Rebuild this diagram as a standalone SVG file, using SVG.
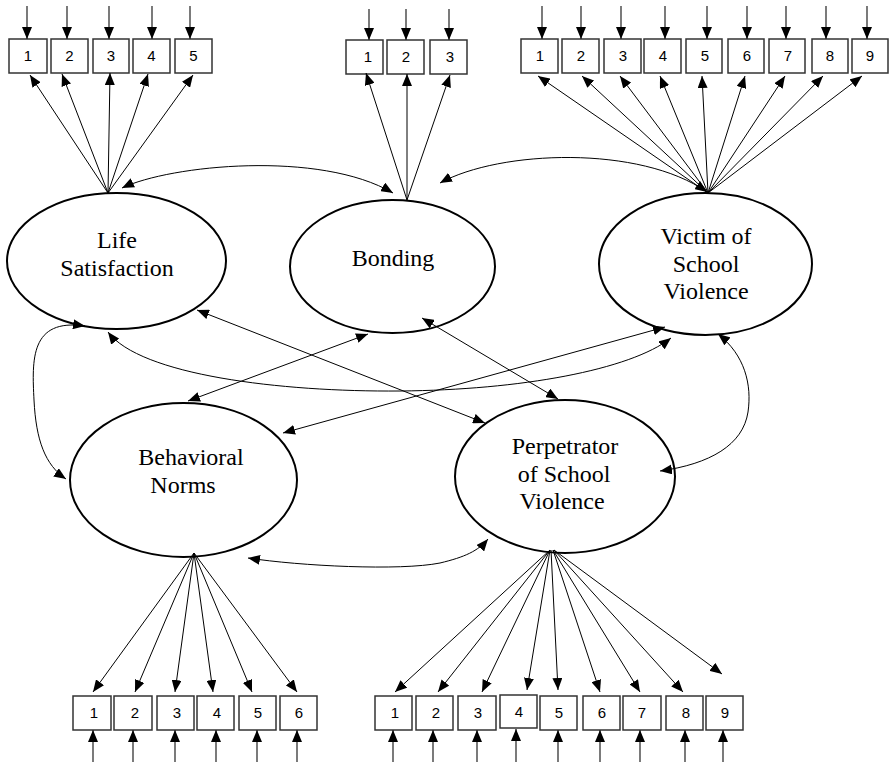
<svg xmlns="http://www.w3.org/2000/svg" width="889" height="764" viewBox="0 0 889 764">
<style>
.lat ellipse{fill:#fff;stroke:#000;stroke-width:2}
.lat text{font-family:"Liberation Serif","Times New Roman",serif;font-size:24px;text-anchor:middle;fill:#000}
.box rect{fill:#fff;stroke:#333;stroke-width:1.5}
.box text{font-family:"Liberation Sans",Arial,sans-serif;font-size:15px;text-anchor:middle;fill:#000}
.c line,.c path{fill:none;stroke:#000;stroke-width:1}
.e line{stroke:#333;stroke-width:1.3}
.one{marker-end:url(#ah)}
.two{marker-start:url(#ah);marker-end:url(#ah)}
</style>
<defs>
<marker id="ah" viewBox="0 0 12 10" refX="12" refY="5" markerWidth="12" markerHeight="10" markerUnits="userSpaceOnUse" orient="auto-start-reverse">
<path d="M0,0 L12,5 L0,10 z" fill="#000"/>
</marker>
</defs>
<rect width="889" height="764" fill="#fff"/>

<g id="life" class="lat">
<ellipse cx="116.5" cy="261" rx="109.5" ry="68"/>
<text x="117" y="248">Life</text>
<text x="117" y="276">Satisfaction</text>
</g>
<g id="bonding" class="lat">
<ellipse cx="392.5" cy="266.5" rx="102.5" ry="66.5"/>
<text x="393" y="266">Bonding</text>
</g>
<g id="victim" class="lat">
<ellipse cx="705.5" cy="264" rx="106.5" ry="71"/>
<text x="706" y="244">Victim of</text>
<text x="706" y="272">School</text>
<text x="706" y="299">Violence</text>
</g>
<g id="behavioral" class="lat">
<ellipse cx="183.5" cy="480" rx="113.5" ry="77"/>
<text x="191" y="465">Behavioral</text>
<text x="183" y="493">Norms</text>
</g>
<g id="perpetrator" class="lat">
<ellipse cx="565" cy="476.5" rx="110" ry="76.5"/>
<text x="565" y="454">Perpetrator</text>
<text x="564" y="482">of School</text>
<text x="562" y="509">Violence</text>
</g>

<!-- top-left boxes -->
<g id="ls1" class="box"><rect x="9" y="39" width="38" height="34"/><text x="28" y="61">1</text></g>
<g id="ls2" class="box"><rect x="51" y="39" width="37" height="34"/><text x="69.5" y="61">2</text></g>
<g id="ls3" class="box"><rect x="93" y="39" width="36" height="34"/><text x="111" y="61">3</text></g>
<g id="ls4" class="box"><rect x="133" y="39" width="37" height="34"/><text x="151.5" y="61">4</text></g>
<g id="ls5" class="box"><rect x="175" y="39" width="37" height="34"/><text x="193.5" y="61">5</text></g>
<!-- top-middle boxes -->
<g id="b1" class="box"><rect x="346" y="40" width="37" height="34"/><text x="368" y="62">1</text></g>
<g id="b2" class="box"><rect x="387" y="40" width="37" height="34"/><text x="406" y="62">2</text></g>
<g id="b3" class="box"><rect x="430" y="40" width="37" height="34"/><text x="450" y="62">3</text></g>
<!-- top-right boxes -->
<g id="v1" class="box"><rect x="521" y="39" width="37" height="34"/><text x="540" y="61">1</text></g>
<g id="v2" class="box"><rect x="562" y="39" width="37" height="34"/><text x="581" y="61">2</text></g>
<g id="v3" class="box"><rect x="604" y="39" width="37" height="34"/><text x="623" y="61">3</text></g>
<g id="v4" class="box"><rect x="644" y="39" width="37" height="34"/><text x="663" y="61">4</text></g>
<g id="v5" class="box"><rect x="686" y="39" width="36" height="34"/><text x="705" y="61">5</text></g>
<g id="v6" class="box"><rect x="728" y="39" width="36" height="34"/><text x="747" y="61">6</text></g>
<g id="v7" class="box"><rect x="769" y="39" width="36" height="34"/><text x="788" y="61">7</text></g>
<g id="v8" class="box"><rect x="812" y="39" width="36" height="34"/><text x="830" y="61">8</text></g>
<g id="v9" class="box"><rect x="852" y="39" width="36" height="34"/><text x="870" y="61">9</text></g>
<!-- bottom-left boxes -->
<g id="n1" class="box"><rect x="73" y="696" width="38" height="34"/><text x="94" y="718">1</text></g>
<g id="n2" class="box"><rect x="114" y="696" width="38" height="34"/><text x="135" y="718">2</text></g>
<g id="n3" class="box"><rect x="157" y="696" width="37" height="34"/><text x="177" y="718">3</text></g>
<g id="n4" class="box"><rect x="197" y="696" width="37" height="34"/><text x="217" y="718">4</text></g>
<g id="n5" class="box"><rect x="239" y="696" width="37" height="34"/><text x="258" y="718">5</text></g>
<g id="n6" class="box"><rect x="280" y="696" width="37" height="34"/><text x="299" y="718">6</text></g>
<!-- bottom-right boxes -->
<g id="p1" class="box"><rect x="375" y="696" width="37" height="34"/><text x="395" y="718">1</text></g>
<g id="p2" class="box"><rect x="416" y="696" width="37" height="34"/><text x="436" y="718">2</text></g>
<g id="p3" class="box"><rect x="458" y="696" width="38" height="34"/><text x="478" y="718">3</text></g>
<g id="p4" class="box"><rect x="500" y="695" width="37" height="33"/><text x="519" y="717">4</text></g>
<g id="p5" class="box"><rect x="540" y="696" width="37" height="34"/><text x="559" y="718">5</text></g>
<g id="p6" class="box"><rect x="583" y="696" width="37" height="34"/><text x="602" y="718">6</text></g>
<g id="p7" class="box"><rect x="623" y="696" width="38" height="34"/><text x="642" y="718">7</text></g>
<g id="p8" class="box"><rect x="666" y="696" width="37" height="34"/><text x="686" y="718">8</text></g>
<g id="p9" class="box"><rect x="706" y="696" width="37" height="34"/><text x="725" y="718">9</text></g>

<g id="connectors" class="c">
<g class="e">
<line class="one" x1="27" y1="6" x2="27" y2="39"/>
<line class="one" x1="67" y1="6" x2="67" y2="39"/>
<line class="one" x1="109" y1="6" x2="109" y2="39"/>
<line class="one" x1="152" y1="6" x2="152" y2="39"/>
<line class="one" x1="190" y1="6" x2="190" y2="39"/>
<line class="one" x1="369" y1="9" x2="369" y2="40"/>
<line class="one" x1="406" y1="9" x2="406" y2="40"/>
<line class="one" x1="449" y1="9" x2="449" y2="40"/>
<line class="one" x1="542" y1="6" x2="542" y2="39"/>
<line class="one" x1="581" y1="6" x2="581" y2="39"/>
<line class="one" x1="621" y1="6" x2="621" y2="39"/>
<line class="one" x1="665" y1="6" x2="665" y2="39"/>
<line class="one" x1="707" y1="6" x2="707" y2="39"/>
<line class="one" x1="747" y1="6" x2="747" y2="39"/>
<line class="one" x1="786" y1="6" x2="786" y2="39"/>
<line class="one" x1="826" y1="6" x2="826" y2="39"/>
<line class="one" x1="867" y1="6" x2="867" y2="39"/>
<line class="one" x1="93" y1="762" x2="93" y2="730"/>
<line class="one" x1="133" y1="762" x2="133" y2="730"/>
<line class="one" x1="175" y1="762" x2="175" y2="730"/>
<line class="one" x1="216" y1="762" x2="216" y2="730"/>
<line class="one" x1="257" y1="762" x2="257" y2="730"/>
<line class="one" x1="297" y1="762" x2="297" y2="730"/>
<line class="one" x1="393" y1="762" x2="393" y2="730"/>
<line class="one" x1="433" y1="762" x2="433" y2="730"/>
<line class="one" x1="477" y1="762" x2="477" y2="730"/>
<line class="one" x1="516" y1="762" x2="516" y2="729"/>
<line class="one" x1="558" y1="762" x2="558" y2="730"/>
<line class="one" x1="600" y1="762" x2="600" y2="730"/>
<line class="one" x1="640" y1="762" x2="640" y2="730"/>
<line class="one" x1="685" y1="762" x2="685" y2="730"/>
<line class="one" x1="723" y1="762" x2="723" y2="730"/>
</g>

<line class="one" x1="108" y1="193" x2="30" y2="75"/>
<line class="one" x1="108" y1="193" x2="62" y2="74"/>
<line class="one" x1="108" y1="193" x2="110" y2="73"/>
<line class="one" x1="108" y1="193" x2="148" y2="74"/>
<line class="one" x1="108" y1="193" x2="193" y2="75"/>
<line class="one" x1="407" y1="200" x2="366" y2="73"/>
<line class="one" x1="407" y1="200" x2="407" y2="74"/>
<line class="one" x1="407" y1="200" x2="450" y2="75"/>
<line class="one" x1="708" y1="193" x2="538" y2="76"/>
<line class="one" x1="708" y1="193" x2="582" y2="76"/>
<line class="one" x1="708" y1="193" x2="620" y2="76"/>
<line class="one" x1="708" y1="193" x2="660" y2="76"/>
<line class="one" x1="708" y1="193" x2="702" y2="76"/>
<line class="one" x1="708" y1="193" x2="745" y2="76"/>
<line class="one" x1="708" y1="193" x2="785" y2="76"/>
<line class="one" x1="708" y1="193" x2="823" y2="76"/>
<line class="one" x1="708" y1="193" x2="862" y2="76"/>
<line class="one" x1="194" y1="553" x2="93" y2="692"/>
<line class="one" x1="194" y1="553" x2="135" y2="692"/>
<line class="one" x1="194" y1="553" x2="175" y2="692"/>
<line class="one" x1="194" y1="553" x2="213" y2="692"/>
<line class="one" x1="194" y1="553" x2="252" y2="692"/>
<line class="one" x1="194" y1="553" x2="297" y2="692"/>
<line class="one" x1="550" y1="550" x2="395" y2="692"/>
<line class="one" x1="550" y1="550" x2="438" y2="692"/>
<line class="one" x1="550" y1="550" x2="482" y2="692"/>
<line class="one" x1="550" y1="550" x2="527" y2="690"/>
<line class="one" x1="551" y1="550" x2="558" y2="690"/>
<line class="one" x1="553" y1="550" x2="600" y2="692"/>
<line class="one" x1="553" y1="550" x2="640" y2="692"/>
<line class="one" x1="554" y1="550" x2="683" y2="692"/>
<line class="one" x1="554" y1="550" x2="722" y2="674"/>

<path class="two" d="M122 188 C170 165, 320 150, 393 193"/>
<path class="two" d="M440 183 C500 150, 640 145, 707 192"/>
<path class="two" d="M85 326 C30 318, 32 360, 34 400 C36 440, 45 465, 66 479"/>
<path class="two" d="M108 332 C140 375, 280 392, 400 391 C520 390, 630 370, 671 338"/>
<line class="two" x1="188" y1="401" x2="368" y2="334"/>
<line class="two" x1="197" y1="310" x2="485" y2="423"/>
<line class="two" x1="422" y1="318" x2="558" y2="399"/>
<line class="two" x1="283" y1="433" x2="665" y2="327"/>
<path class="two" d="M718 334 C745 355, 752 385, 748 412 C743 445, 710 464, 660 471"/>
<path class="two" d="M248 558 C300 566, 400 571, 440 563 C465 557, 478 551, 488 539"/>
</g>
</svg>
